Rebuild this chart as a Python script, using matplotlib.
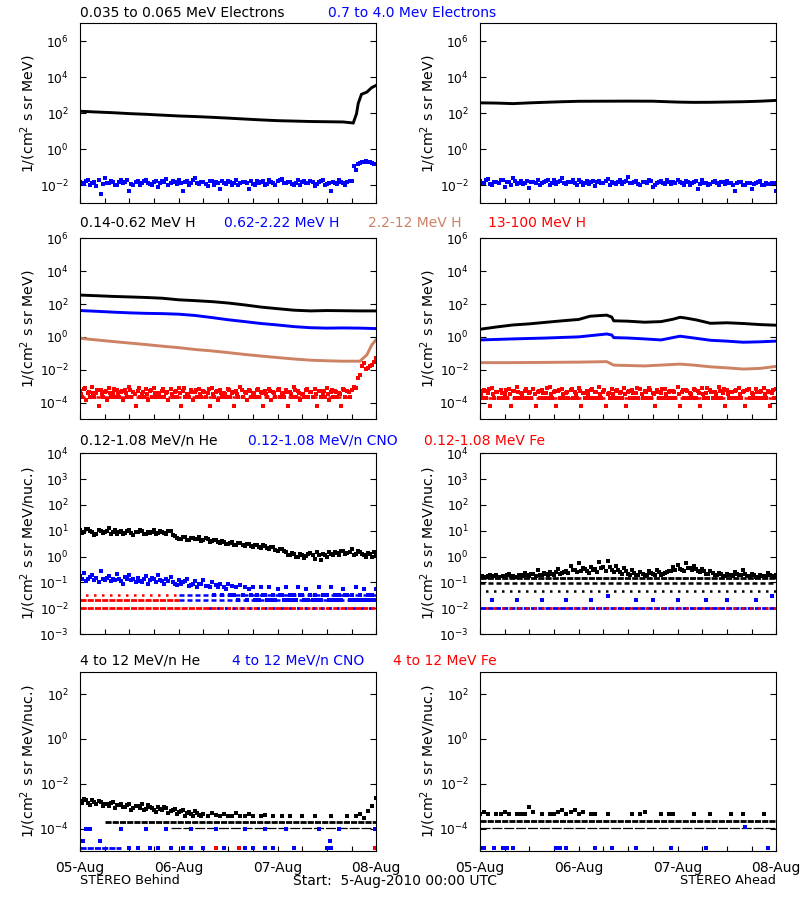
import numpy as np
import matplotlib
matplotlib.use('Agg')
import matplotlib.pyplot as plt
from matplotlib.ticker import FixedLocator, NullLocator, MultipleLocator, LogFormatterMathtext

nan = np.nan
BLUE = '#0000ff'
RED = '#ff0000'
SIENNA = '#cd8264'

# hours since 5-Aug-2010 00:00 UTC
hr = np.arange(73)
hr_half = np.arange(72) + 0.5
day_labels = ['05-Aug', '06-Aug', '07-Aug', '08-Aug']

# ---------------- row 1 : electrons ----------------
e_lo_t_L = [0, 4, 8, 12, 16, 20, 24, 28, 32, 36, 40, 44, 48, 52, 56, 60, 64, 66.4,
            67.2, 67.6, 68.4, 69.7, 70.9, 72]
e_lo_L = [130, 118, 108, 96, 88, 79, 71, 66, 60, 54, 48, 43, 39, 37, 35, 34, 33, 29,
          96, 350, 1140, 1500, 2700, 3600]
e_hi_L = [0.016, 0.012, 0.021, 0.014, 0.009, 0.0035, 0.025, 0.013, 0.016, 0.011,
          0.019, 0.015, 0.005, 0.010, 0.017, 0.014, 0.020, 0.012, 0.016, 0.008,
          0.018, 0.023, 0.013, 0.015, 0.019, 0.005, 0.017, 0.014, 0.026, 0.012,
          0.016, 0.009, 0.018, 0.015, 0.006, 0.013, 0.017, 0.011, 0.020, 0.014,
          0.016, 0.006, 0.012, 0.018, 0.015, 0.010, 0.019, 0.013, 0.017, 0.022,
          0.014, 0.016, 0.011, 0.020, 0.015, 0.013, 0.018, 0.009, 0.016, 0.021,
          0.012, 0.005, 0.014, 0.019, 0.013, 0.016, 0.018, 0.070, 0.170, 0.200,
          0.210, 0.180, 0.150]
e_hi_L2 = [0.013, 0.018, 0.011, 0.015, 0.020, 0.012, 0.014, 0.017, 0.010, 0.016,
           0.013, 0.019, 0.012, 0.015, 0.011, 0.018, 0.014, 0.010, 0.017, 0.013,
           0.015, 0.011, 0.018, 0.012, 0.014, 0.016, 0.010, 0.019, 0.013, 0.015,
           0.012, 0.017, 0.011, 0.014, 0.018, 0.012, 0.015, 0.013, 0.010, 0.016,
           0.013, 0.018, 0.011, 0.014, 0.017, 0.012, 0.015, 0.010, 0.019, 0.013,
           0.016, 0.012, 0.014, 0.011, 0.017, 0.013, 0.015, 0.012, 0.018, 0.010,
           0.014, 0.016, 0.012, 0.015, 0.011, 0.017, 0.120, 0.160, 0.190, 0.220,
           0.190, 0.160]

e_lo_t_R = [0, 4, 8, 12, 16, 20, 24, 30, 36, 42, 48, 52, 56, 60, 64, 68, 72]
e_lo_R = [380, 370, 345, 380, 410, 440, 465, 470, 475, 470, 420, 405, 410, 425, 440, 470, 520]
e_hi_R = [0.017, 0.013, 0.022, 0.011, 0.016, 0.019, 0.008, 0.015, 0.024, 0.012,
          0.018, 0.014, 0.007, 0.016, 0.021, 0.013, 0.017, 0.010, 0.019, 0.015,
          0.026, 0.012, 0.016, 0.014, 0.020, 0.011, 0.017, 0.015, 0.009, 0.018,
          0.013, 0.022, 0.016, 0.012, 0.019, 0.015, 0.030, 0.013, 0.017, 0.011,
          0.016, 0.020, 0.008, 0.014, 0.018, 0.012, 0.016, 0.015, 0.021, 0.013,
          0.017, 0.011, 0.015, 0.006, 0.019, 0.014, 0.012, 0.017, 0.010, 0.015,
          0.018, 0.013, 0.005, 0.016, 0.011, 0.014, 0.006, 0.013, 0.017, 0.010,
          0.012, 0.014, 0.005]
e_hi_R2 = [0.014, 0.019, 0.012, 0.016, 0.013, 0.021, 0.015, 0.011, 0.017, 0.014,
           0.012, 0.018, 0.015, 0.013, 0.010, 0.016, 0.020, 0.014, 0.012, 0.017,
           0.013, 0.015, 0.019, 0.011, 0.016, 0.014, 0.012, 0.018, 0.015, 0.013,
           0.017, 0.011, 0.014, 0.016, 0.012, 0.018, 0.014, 0.016, 0.012, 0.015,
           0.013, 0.017, 0.011, 0.015, 0.013, 0.019, 0.012, 0.014, 0.016, 0.011,
           0.015, 0.013, 0.017, 0.012, 0.014, 0.011, 0.016, 0.013, 0.015, 0.012,
           0.014, 0.011, 0.013, 0.015, 0.010, 0.013, 0.012, 0.015, 0.011, 0.013,
           0.012, 0.014]

# ---------------- row 2 : protons ----------------
p_t4 = [0, 4, 8, 12, 16, 20, 24, 28, 32, 36, 40, 44, 48, 52, 56, 60, 64, 68, 72]
p1_L = [350, 320, 290, 270, 250, 225, 180, 160, 140, 115, 88, 65, 52, 42, 38, 40, 39, 38, 38]
p2_L = [40, 36, 32, 29, 27, 26, 24, 20, 15, 11, 8.5, 6.5, 5.3, 4.2, 3.6, 3.4, 3.5, 3.4, 3.2]
p3_t_L = [0, 4, 8, 12, 16, 20, 24, 28, 32, 36, 40, 44, 48, 52, 56, 60, 64, 68,
          69.7, 70.9, 72]
p3_L = [0.82, 0.65, 0.52, 0.42, 0.34, 0.27, 0.22, 0.17, 0.14, 0.11, 0.085, 0.068,
        0.055, 0.045, 0.038, 0.035, 0.033, 0.033, 0.08, 0.32, 0.71]
p4_L = [5.2e-4, 6.8e-4, 4.1e-4, 8.5e-4, 3.6e-4, 5.5e-4, 4.4e-4, 7.2e-4, 3.9e-4, 5.8e-4,
        4.7e-4, 6.1e-4, 9.0e-4, 4.2e-4, 5.0e-4, 3.4e-4, 6.6e-4, 4.8e-4, 7.8e-4, 4.0e-4,
        5.4e-4, 3.7e-4, 6.3e-4, 4.5e-4, 8.1e-4, 4.9e-4, 3.5e-4, 5.9e-4, 4.3e-4, 6.9e-4,
        5.1e-4, 3.8e-4, 7.5e-4, 4.6e-4, 5.6e-4, 4.1e-4, 6.4e-4, 3.6e-4, 5.3e-4, 8.8e-4,
        4.4e-4, 5.7e-4, 3.9e-4, 6.2e-4, 4.7e-4, 5.0e-4, 7.0e-4, 4.2e-4, 5.5e-4, 3.7e-4,
        6.0e-4, 4.5e-4, 8.3e-4, 4.8e-4, 3.5e-4, 5.9e-4, 4.3e-4, 6.7e-4, 5.1e-4, 3.8e-4,
        7.3e-4, 4.6e-4, 5.4e-4, 4.0e-4, 6.5e-4, 4.9e-4, 5.8e-4, 7.4e-4, 5.0e-3, 2.4e-2,
        1.3e-2, 2.0e-2, 5.0e-2]
p4_lo_L = [2.3e-4, 1.4e-4, 2.3e-4, 2.3e-4, 6e-5, 2.3e-4, 1.4e-4, 2.3e-4, 2.3e-4, 2.3e-4,
           1.4e-4, 2.3e-4, 2.3e-4, 6e-5, 2.3e-4, 2.3e-4, 1.4e-4, 2.3e-4, 2.3e-4, 2.3e-4,
           2.3e-4, 1.4e-4, 2.3e-4, 2.3e-4, 6e-5, 2.3e-4, 2.3e-4, 1.4e-4, 2.3e-4, 2.3e-4,
           2.3e-4, 6e-5, 2.3e-4, 1.4e-4, 2.3e-4, 2.3e-4, 2.3e-4, 6e-5, 2.3e-4, 2.3e-4,
           1.4e-4, 2.3e-4, 2.3e-4, 2.3e-4, 6e-5, 2.3e-4, 1.4e-4, 2.3e-4, 2.3e-4, 2.3e-4,
           6e-5, 2.3e-4, 2.3e-4, 1.4e-4, 2.3e-4, 2.3e-4, 2.3e-4, 6e-5, 2.3e-4, 2.3e-4,
           1.4e-4, 2.3e-4, 2.3e-4, 6e-5, 2.3e-4, 2.3e-4, 9.0e-4, 3.0e-3, 1.6e-2, 1.1e-2,
           1.8e-2, 3.0e-2]
p4_band_L = [3.3e-4, 7.9e-4, 4.6e-4, 3.9e-4, 6.2e-4, 3.3e-4, 5.2e-4, 4.1e-4, 6.9e-4, 3.3e-4,
             4.8e-4, 3.9e-4, 5.6e-4, 3.3e-4, 7.2e-4, 4.4e-4, 3.3e-4, 5.9e-4, 4.0e-4, 3.3e-4,
             6.5e-4, 4.5e-4, 3.3e-4, 5.0e-4, 3.9e-4, 7.8e-4, 3.3e-4, 4.7e-4, 5.8e-4, 3.3e-4,
             4.2e-4, 6.3e-4, 3.3e-4, 5.1e-4, 3.8e-4, 3.3e-4, 5.5e-4, 4.3e-4, 3.3e-4, 6.0e-4,
             3.6e-4, 4.9e-4, 3.3e-4, 7.0e-4, 4.1e-4, 3.3e-4, 5.4e-4, 3.8e-4, 6.4e-4, 3.3e-4,
             4.6e-4, 3.3e-4, 5.7e-4, 4.0e-4, 3.3e-4, 6.8e-4, 4.4e-4, 3.3e-4, 5.2e-4, 4.8e-4,
             3.3e-4, 6.1e-4, 4.2e-4, 3.3e-4, 5.6e-4, 4.5e-4]

p1_t_R = [0, 4, 8, 12, 16, 20, 24, 26.7, 28, 30.8, 32, 32.5, 36, 40, 44, 47, 48.6,
          50, 52.6, 56, 60, 64, 68, 72]
p1_R = [2.9, 4.0, 5.3, 6.2, 7.7, 9.5, 11.5, 18, 19, 21, 16, 9.5, 9, 7.8, 8.5, 12, 15.6,
        14, 10.7, 6.7, 7.2, 6.5, 5.6, 5.1]
p2_t_R = [0, 8, 16, 24, 30.8, 32, 32.5, 36, 40, 44, 48.6, 52, 56, 60, 64, 68, 72]
p2_R = [0.65, 0.75, 0.85, 1.0, 1.5, 1.3, 0.9, 0.85, 0.75, 0.65, 1.1, 0.85, 0.62, 0.55,
        0.47, 0.5, 0.55]
p3_t_R = [0, 8, 16, 24, 30.8, 32.5, 40, 48.6, 52, 56, 60, 64, 68, 72]
p3_R = [0.027, 0.027, 0.028, 0.029, 0.031, 0.019, 0.017, 0.022, 0.019, 0.015, 0.013,
        0.011, 0.012, 0.016]
p4_R = [4.8e-4, 6.2e-4, 3.9e-4, 7.9e-4, 4.4e-4, 5.6e-4, 3.5e-4, 6.8e-4, 4.9e-4, 9.2e-4,
        4.1e-4, 5.3e-4, 3.8e-4, 7.1e-4, 4.6e-4, 5.9e-4, 3.6e-4, 8.4e-4, 4.3e-4, 5.1e-4,
        6.5e-4, 3.9e-4, 5.7e-4, 4.5e-4, 7.6e-4, 3.7e-4, 5.4e-4, 6.0e-4, 4.2e-4, 8.9e-4,
        4.7e-4, 3.5e-4, 6.3e-4, 5.0e-4, 4.0e-4, 7.3e-4, 4.4e-4, 5.8e-4, 3.8e-4, 6.6e-4,
        4.9e-4, 8.0e-4, 4.1e-4, 5.5e-4, 3.6e-4, 6.9e-4, 4.6e-4, 5.2e-4, 9.0e-4, 4.3e-4,
        5.9e-4, 3.7e-4, 6.4e-4, 4.8e-4, 7.7e-4, 4.0e-4, 5.6e-4, 4.4e-4, 8.6e-4, 3.9e-4,
        6.1e-4, 4.7e-4, 5.3e-4, 7.2e-4, 4.2e-4, 5.8e-4, 3.6e-4, 6.7e-4, 4.5e-4, 8.2e-4,
        5.0e-4, 4.1e-4, 6.3e-4]
p4_lo_R = [1.8e-4, 1.8e-4, 6.3e-5, 1.8e-4, 1.8e-4, 1.8e-4, 1.8e-4, 6.3e-5, 1.8e-4, 1.8e-4,
           1.8e-4, 1.8e-4, 1.8e-4, 6.3e-5, 1.8e-4, 1.8e-4, 1.8e-4, 1.8e-4, 6.3e-5, 1.8e-4,
           1.8e-4, 1.8e-4, 1.8e-4, 1.8e-4, 6.3e-5, 1.8e-4, 1.8e-4, 1.8e-4, 1.8e-4, 1.8e-4,
           6.3e-5, 1.8e-4, 1.8e-4, 1.8e-4, 1.8e-4, 6.3e-5, 1.8e-4, 1.8e-4, 1.8e-4, 1.8e-4,
           1.8e-4, 1.8e-4, 6.3e-5, 1.8e-4, 1.8e-4, 1.8e-4, 1.8e-4, 1.8e-4, 6.3e-5, 1.8e-4,
           1.8e-4, 1.8e-4, 1.8e-4, 6.3e-5, 1.8e-4, 1.8e-4, 1.8e-4, 1.8e-4, 1.8e-4, 6.3e-5,
           1.8e-4, 1.8e-4, 1.8e-4, 1.8e-4, 6.3e-5, 1.8e-4, 1.8e-4, 1.8e-4, 1.8e-4, 1.8e-4,
           6.3e-5, 1.8e-4]
p4_band_R = [3.2e-4, 5.0e-4, 7.0e-4, 3.2e-4, 4.6e-4, 3.9e-4, 6.1e-4, 3.2e-4, 5.4e-4, 4.2e-4,
             3.2e-4, 6.7e-4, 4.4e-4, 3.2e-4, 5.1e-4, 3.8e-4, 7.4e-4, 3.2e-4, 4.8e-4, 5.9e-4,
             3.2e-4, 4.3e-4, 6.4e-4, 3.2e-4, 5.2e-4, 4.0e-4, 3.2e-4, 7.1e-4, 4.6e-4, 3.2e-4,
             5.6e-4, 4.1e-4, 3.2e-4, 6.2e-4, 4.7e-4, 3.2e-4, 5.3e-4, 3.9e-4, 8.0e-4, 3.2e-4,
             4.5e-4, 5.8e-4, 3.2e-4, 4.2e-4, 6.6e-4, 3.2e-4, 5.0e-4, 4.4e-4, 3.2e-4, 6.0e-4,
             4.8e-4, 3.2e-4, 5.5e-4, 4.1e-4, 3.2e-4, 7.3e-4, 4.6e-4, 3.2e-4, 5.1e-4, 6.3e-4,
             3.2e-4, 4.4e-4, 5.7e-4, 3.2e-4, 4.9e-4, 6.8e-4, 3.2e-4, 4.3e-4, 5.4e-4, 3.2e-4,
             4.7e-4, 6.0e-4]
lev2_L, lev2_L_t0, lev2_L_t1 = [2.3e-4], [0], [66]
lev2_R, lev2_R_t0, lev2_R_t1 = [1.8e-4], [0], [72]

# ---------------- row 3 : 0.12-1.08 MeV/n ions ----------------
he_L = [10.5, 8.6, 11.8, 9.2, 7.4, 10.1, 8.8, 12.3, 9.0, 7.8,
        9.6, 8.2, 10.4, 7.1, 8.9, 9.8, 7.6, 8.4, 10.8, 7.9,
        8.7, 7.2, 9.4, 6.1, 5.0, 5.6, 4.4, 5.3, 4.8, 5.9,
        4.2, 4.9, 3.9, 4.5, 3.4, 3.8, 3.1, 3.6, 2.8, 3.3,
        2.6, 3.0, 2.4, 2.9, 2.2, 2.5, 2.0, 2.3, 1.7, 1.9,
        1.5, 1.1, 1.3, 0.95, 1.2, 1.05, 1.4, 0.8, 1.15, 1.3,
        1.0, 1.25, 1.5, 1.2, 1.6, 1.35, 1.9, 1.3, 1.5, 1.1,
        1.4, 0.95, 1.2]
he_L2 = [8.1, 11.2, 9.7, 7.0, 10.9, 8.3, 9.5, 7.7, 10.6, 8.9,
         7.3, 9.9, 8.0, 9.1, 11.0, 7.5, 9.3, 8.6, 7.4, 9.8,
         8.1, 10.2, 6.8, 5.4, 4.7, 5.8, 4.3, 5.1, 4.6, 4.1,
         5.2, 3.7, 4.3, 3.6, 4.0, 3.2, 3.5, 2.9, 3.4, 2.7,
         3.1, 2.5, 2.8, 2.3, 2.7, 2.1, 2.4, 1.8, 2.0, 1.6,
         1.2, 1.4, 1.0, 1.3, 0.9, 1.25, 1.1, 1.45, 0.75, 1.2,
         1.55, 1.1, 1.35, 1.7, 1.25, 1.5, 1.15, 1.6, 1.3, 1.0,
         1.3, 1.45]
cno_L = [0.17, 0.24, 0.13, 0.20, 0.15, 0.27, 0.12, 0.18, 0.14, 0.21,
         0.11, 0.16, 0.19, 0.13, 0.15, 0.10, 0.17, 0.12, 0.14, 0.20,
         0.11, 0.13, 0.16, 0.09, 0.12, 0.10, 0.14, 0.08, 0.11, 0.09,
         0.12, 0.075, 0.10, 0.08, 0.09, 0.065, 0.085, 0.07, 0.065, 0.08,
         0.065, 0.055, 0.065, 0.032, 0.065, 0.032, 0.065, 0.032, 0.055, 0.032,
         0.065, 0.032, 0.032, 0.065, 0.032, 0.055, 0.032, 0.032, 0.065, 0.032,
         0.032, 0.065, 0.032, 0.032, 0.055, 0.032, 0.032, 0.065, 0.032, 0.055,
         0.032, 0.032, 0.055]
cno_L2 = [0.13, 0.11, 0.16, 0.12, 0.10, 0.14, 0.15, 0.11, 0.12, 0.13,
          0.09, 0.14, 0.12, 0.10, 0.11, 0.13, 0.09, 0.15, 0.10, 0.12,
          0.09, 0.11, 0.10, 0.08, 0.09, 0.11, 0.075, 0.09, 0.065, 0.085,
          0.07, 0.065, 0.032, 0.065, 0.032, 0.055, 0.032, 0.032, 0.021, 0.032,
          0.021, 0.032, 0.021, 0.021, 0.032, 0.021, 0.021, 0.021, 0.032, 0.021,
          0.021, 0.021, 0.021, 0.032, 0.021, 0.021, 0.021, 0.021, 0.021, 0.032,
          0.021, 0.021, 0.021, 0.021, 0.032, 0.021, 0.021, 0.021, 0.021, 0.021,
          0.021, 0.021]
# count-quantised levels (value, start hour, end hour)
lev3_L = [0.032, 0.032, 0.021, 0.021, 0.0105, 0.0105]
lev3_L_t0 = [0, 24, 0, 24, 0, 30]
lev3_L_t1 = [24, 72, 24, 72, 72, 72]

he_R = [0.16, nan, 0.18, 0.16, 0.2, nan, 0.17, 0.22, 0.18, 0.16,
        0.2, 0.24, 0.18, 0.21, 0.3, 0.19, 0.22, 0.26, 0.2, 0.33,
        0.24, 0.28, 0.45, 0.3, 0.55, 0.35, 0.27, 0.4, 0.32, 0.6,
        0.38, 0.7, 0.3, 0.42, 0.26, 0.35, 0.22, 0.3, 0.2, 0.25,
        0.18, 0.28, 0.22, 0.3, 0.2, 0.24, 0.27, 0.38, 0.48, 0.3,
        0.55, 0.35, 0.42, 0.28, 0.33, 0.22, 0.27, 0.2, 0.24, 0.18,
        0.22, 0.19, 0.25, 0.2, 0.3, 0.18, 0.21, 0.16, 0.2, 0.18,
        0.24, 0.17, 0.2]
he_R2 = [0.17, 0.16, 0.19, 0.17, 0.16, 0.18, 0.2, 0.17, 0.16, 0.19,
         0.17, 0.2, 0.22, 0.18, 0.2, 0.24, 0.19, 0.22, 0.25, 0.21,
         0.26, 0.23, 0.3, 0.25, 0.28, 0.33, 0.24, 0.3, 0.26, 0.35,
         0.28, 0.4, 0.25, 0.3, 0.22, 0.27, 0.2, 0.23, 0.19, 0.21,
         0.2, 0.24, 0.2, 0.26, 0.22, 0.25, 0.28, 0.3, 0.33, 0.27,
         0.36, 0.29, 0.32, 0.25, 0.28, 0.21, 0.24, 0.19, 0.22, 0.18,
         0.2, 0.18, 0.22, 0.19, 0.21, 0.17, 0.2, 0.16, 0.18, 0.17,
         0.19, 0.16]
lev3_R = [0.143, 0.091, 0.046, 0.0105, 0.0105]
lev3_R_t0 = [0, 0, 0, 0, 0]
lev3_R_t1 = [72, 72, 72, 72, 72]
cno_R_t = [3, 9, 15, 21, 27, 31, 38, 42, 48, 55, 60, 67, 71]
cno_R = [0.021, 0.021, 0.021, 0.021, 0.021, 0.03, 0.021, 0.021, 0.021, 0.021, 0.021,
         0.021, 0.03]

# ---------------- row 4 : 4-12 MeV/n ions ----------------
he4_L = [1.7e-3, 2.1e-3, 1.4e-3, 1.8e-3, 1.2e-3, 1.6e-3, 1.3e-3, 1.0e-3, 1.5e-3, 1.1e-3,
         1.3e-3, 0.9e-3, 1.2e-3, 0.8e-3, 1.05e-3, 1.3e-3, 0.75e-3, 0.95e-3, 0.7e-3, 0.9e-3,
         0.65e-3, 0.8e-3, 0.6e-3, 0.75e-3, 0.55e-3, 0.7e-3, 0.5e-3, 0.45e-3, 0.6e-3, 0.4e-3,
         0.45e-3, 0.36e-3, 0.5e-3, 0.4e-3, 0.36e-3, 0.45e-3, 0.36e-3, 0.36e-3, 0.5e-3, 0.36e-3,
         0.36e-3, 0.45e-3, 0.36e-3, nan, 0.36e-3, 0.4e-3, nan, 0.36e-3, nan, 0.36e-3,
         nan, 0.36e-3, nan, nan, 0.36e-3, nan, nan, 0.36e-3, nan, nan,
         nan, 0.36e-3, nan, nan, nan, 0.36e-3, nan, 0.36e-3, 0.45e-3, 0.3e-3,
         0.6e-3, 1.0e-3, 2.3e-3]
he4_L2 = [1.4e-3, 1.9e-3, 1.1e-3, 1.5e-3, 1.7e-3, 1.0e-3, 1.2e-3, 1.4e-3, 0.85e-3, 1.1e-3,
          0.9e-3, 1.15e-3, 0.7e-3, 1.0e-3, 0.85e-3, 0.65e-3, 1.1e-3, 0.8e-3, 0.55e-3, 0.75e-3,
          0.9e-3, 0.5e-3, 0.65e-3, 0.45e-3, 0.6e-3, 0.36e-3, 0.55e-3, 0.36e-3, 0.5e-3, 0.36e-3]
lev4_L = [2.0e-4, 1.05e-4, 1.3e-5]
lev4_L_t0 = [6, 22, 0]
lev4_L_t1 = [72, 72, 10]
cno4_L_t = [0.8, 1.5, 2.5, 4.8, 10, 16, 21, 27, 33, 40, 45, 50, 58, 60.8, 63, 71.8]
cno4_L = [2.8e-5, 1e-4, 1e-4, 2.8e-5, 1e-4, 1e-4, 1e-4, 1e-4, 1e-4, 1e-4, 1e-4, 1e-4,
          1e-4, 2.8e-5, 1e-4, 1e-4]
cno4_L_low_t = [12, 14, 17, 19, 22, 25, 27, 30, 35, 40, 42, 45, 47, 52, 60, 61]
fe4_L_t = [33.1, 38.6, 71.7]

he4_R = [4.5e-4, 5.4e-4, 4.5e-4, nan, 4.5e-4, 4.5e-4, 5.4e-4, 4.5e-4, nan, 4.5e-4,
         4.5e-4, 4.5e-4, 9.5e-4, 5.4e-4, nan, 4.5e-4, nan, 4.5e-4, 4.5e-4, 5.4e-4,
         6.6e-4, 4.5e-4, 5.4e-4, 6.6e-4, 4.5e-4, 5.4e-4, nan, 4.5e-4, 4.5e-4, nan,
         nan, 4.5e-4, nan, nan, nan, nan, nan, 4.5e-4, nan, 4.5e-4,
         5.4e-4, nan, nan, nan, 4.5e-4, nan, 4.5e-4, 4.5e-4, nan, nan,
         nan, nan, 4.5e-4, nan, nan, nan, 4.5e-4, nan, nan, nan,
         nan, 4.5e-4, nan, nan, 4.5e-4, nan, nan, nan, nan, 4.5e-4,
         nan, nan, nan]
lev4_R = [2.2e-4, 1.1e-4]
lev4_R_t0 = [0, 0]
lev4_R_t1 = [72, 72]
cno4_R_t = [0.3, 1.0, 3.5, 5.5, 6.5, 8, 18.5, 19.5, 21, 28, 32, 38, 46.5, 55, 64.5, 70]
cno4_R = [1.3e-5, 1.3e-5, 1.3e-5, 1.3e-5, 1.3e-5, 1.3e-5, 1.3e-5, 1.3e-5, 1.3e-5, 1.3e-5,
          1.3e-5, 1.3e-5, 1.3e-5, 1.3e-5, 1.2e-4, 1.3e-5]

# ---------------- labels ----------------
titles = [
    [('0.035 to 0.065 MeV Electrons', 'black', 80), ('0.7 to 4.0 Mev Electrons', BLUE, 328)],
    [('0.14-0.62 MeV H', 'black', 80), ('0.62-2.22 MeV H', BLUE, 224),
     ('2.2-12 MeV H', SIENNA, 368), ('13-100 MeV H', RED, 488)],
    [('0.12-1.08 MeV/n He', 'black', 80), ('0.12-1.08 MeV/n CNO', BLUE, 248),
     ('0.12-1.08 MeV Fe', RED, 424)],
    [('4 to 12 MeV/n He', 'black', 80), ('4 to 12 MeV/n CNO', BLUE, 232),
     ('4 to 12 MeV Fe', RED, 393)],
]
title_y = [13, 223, 441, 661]
row_top = [23.3, 238.3, 453.3, 671.7]
row_h = [180, 180.7, 180.7, 179.3]
ylims = [(1e-3, 1e7), (1e-5, 1e6), (1e-3, 1e4), (1e-5, 1e3)]
yticks = [[1e-2, 1, 1e2, 1e4, 1e6], [1e-4, 1e-2, 1, 1e2, 1e4, 1e6],
          [1e-3, 1e-2, 1e-1, 1, 10, 1e2, 1e3, 1e4], [1e-4, 1e-2, 1, 1e2]]
ylabels = ['1/(cm$^2$ s sr MeV)', '1/(cm$^2$ s sr MeV)',
           '1/(cm$^2$ s sr MeV/nuc.)', '1/(cm$^2$ s sr MeV/nuc.)']

FS = 8.8
W, H = 800, 900
fig = plt.figure(figsize=(8, 9), dpi=100)

# dash patterns for the count-quantised rows of points
STY = {'dense': dict(lw=2.0, ls=(0, (2.2, 0.4))),
       'mid': dict(lw=1.8, ls=(0, (2.0, 1.2))),
       'sparse': dict(lw=1.8, ls=(1, (1.0, 2.2))),
       'thin': dict(lw=0.9, ls=(0, (8, 1.5)))}


def make_ax(col, row):
    left = [80, 480][col]
    ax = fig.add_axes([left / W, 1 - (row_top[row] + row_h[row]) / H, 296.3 / W, row_h[row] / H])
    ax.set_yscale('log')
    ax.set_ylim(*ylims[row])
    ax.set_xlim(0, 72)
    ax.yaxis.set_major_locator(FixedLocator(yticks[row]))
    ax.yaxis.set_major_formatter(LogFormatterMathtext())
    ax.yaxis.set_minor_locator(NullLocator())
    ax.set_xticks([0, 24, 48, 72])
    ax.xaxis.set_minor_locator(MultipleLocator(6))
    ax.tick_params(axis='y', which='both', direction='in', left=True, right=True,
                   length=4.5, width=0.8, labelsize=FS, pad=8)
    ax.tick_params(axis='x', which='both', direction='in', bottom=True, top=False,
                   length=3.5, width=0.8, labelsize=10, pad=7)
    if row == 3:
        ax.set_xticklabels(day_labels)
    else:
        ax.set_xticklabels([])
    for s in ax.spines.values():
        s.set_linewidth(0.8)
    ax.set_ylabel(ylabels[row], fontsize=10.2)
    ax.yaxis.set_label_coords(-0.142, 0.5)
    return ax


def dots(ax, t, v, color, ms=2.5):
    ax.plot(t, v, ls='none', marker='s', ms=ms, mew=0, color=color)


def line(ax, t, v, color, lw=2.1):
    ax.plot(t, v, color=color, lw=lw, solid_joinstyle='miter')


def levels(ax, lev, t0, t1, cols, kinds):
    for y, a, b, c, k in zip(lev, t0, t1, cols, kinds):
        st = STY[k]
        ax.hlines(y, a, b, colors=c, lw=st['lw'], linestyles=[st['ls']])


# row 1
ax = make_ax(0, 0)
dots(ax, hr, e_hi_L, BLUE)
dots(ax, hr_half, e_hi_L2, BLUE)
line(ax, e_lo_t_L, e_lo_L, 'black')
ax = make_ax(1, 0)
dots(ax, hr, e_hi_R, BLUE)
dots(ax, hr_half, e_hi_R2, BLUE)
line(ax, e_lo_t_R, e_lo_R, 'black')

# row 2
ax = make_ax(0, 1)
levels(ax, lev2_L, lev2_L_t0, lev2_L_t1, [RED], ['mid'])
dots(ax, hr, p4_L, RED)
dots(ax, hr_half, p4_lo_L, RED)
dots(ax, hr[:len(p4_band_L)] + 0.25, p4_band_L, RED)
line(ax, p3_t_L, p3_L, SIENNA)
line(ax, p_t4, p2_L, BLUE)
line(ax, p_t4, p1_L, 'black')
ax = make_ax(1, 1)
levels(ax, lev2_R, lev2_R_t0, lev2_R_t1, [RED], ['mid'])
dots(ax, hr, p4_R, RED)
dots(ax, hr_half, p4_lo_R, RED)
dots(ax, hr_half - 0.25, p4_band_R, RED)
line(ax, p3_t_R, p3_R, SIENNA)
line(ax, p2_t_R, p2_R, BLUE)
line(ax, p1_t_R, p1_R, 'black')

# row 3
ax = make_ax(0, 2)
levels(ax, lev3_L, lev3_L_t0, lev3_L_t1, [RED, BLUE, RED, BLUE, RED, BLUE],
       ['sparse', 'mid', 'dense', 'mid', 'dense', 'sparse'])
dots(ax, hr, cno_L, BLUE)
dots(ax, hr_half, cno_L2, BLUE)
dots(ax, hr, he_L, 'black')
dots(ax, hr_half, he_L2, 'black')
ax = make_ax(1, 2)
levels(ax, lev3_R, lev3_R_t0, lev3_R_t1, ['black', 'black', 'black', BLUE, RED],
       ['dense', 'mid', 'sparse', 'dense', 'sparse'])
dots(ax, cno_R_t, cno_R, BLUE)
dots(ax, hr, he_R, 'black')
dots(ax, hr_half, he_R2, 'black')

# row 4
ax = make_ax(0, 3)
levels(ax, lev4_L, lev4_L_t0, lev4_L_t1, ['black', 'black', BLUE], ['dense', 'thin', 'dense'])
dots(ax, cno4_L_t, cno4_L, BLUE)
dots(ax, cno4_L_low_t, [1.3e-5] * len(cno4_L_low_t), BLUE)
dots(ax, fe4_L_t, [1.3e-5] * len(fe4_L_t), RED)
dots(ax, hr, he4_L, 'black')
dots(ax, hr_half[:len(he4_L2)], he4_L2, 'black')
ax = make_ax(1, 3)
levels(ax, lev4_R, lev4_R_t0, lev4_R_t1, ['black', 'black'], ['dense', 'thin'])
dots(ax, cno4_R_t, cno4_R, BLUE)
dots(ax, hr, he4_R, 'black')

# titles and footer
for r, items in enumerate(titles):
    for txt, c, x in items:
        fig.text(x / W, 1 - title_y[r] / H, txt, color=c, fontsize=10, va='center', ha='left')
fig.text(80 / W, 1 - 881 / H, 'STEREO Behind', fontsize=9.2, va='center')
fig.text(293 / W, 1 - 881 / H, 'Start:  5-Aug-2010 00:00 UTC', fontsize=10, va='center')
fig.text(776 / W, 1 - 881 / H, 'STEREO Ahead', fontsize=9.2, va='center', ha='right')

fig.savefig('out.png', dpi=100)
